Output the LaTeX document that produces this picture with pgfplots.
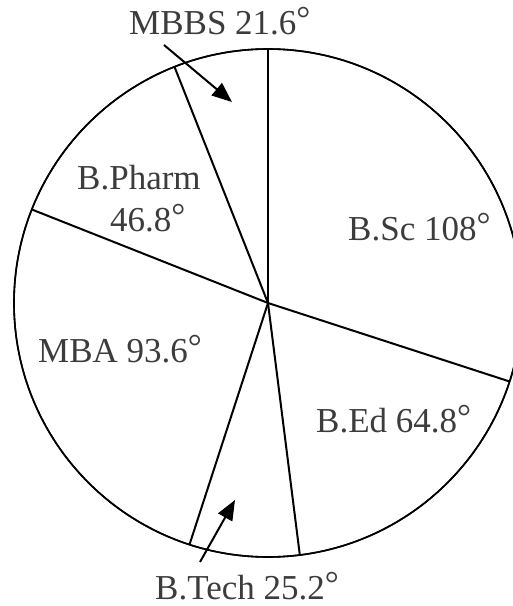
\documentclass[border=0pt]{standalone}
\usepackage{fontspec}
\setmainfont{Liberation Serif}
\usepackage{pgfplots}
\pgfplotsset{compat=1.18}
\usepgfplotslibrary{polar}
\usetikzlibrary{arrows.meta}
\definecolor{labelgray}{HTML}{3C3C3C}
\newcommand\dg{\raisebox{4pt}{°}}

% sector boundaries, clockwise from the top (90 deg):
% B.Sc 108, B.Ed 64.8, B.Tech 25.2, MBA 93.6, B.Pharm 46.8, MBBS 21.6
\begin{document}
\begin{tikzpicture}
\useasboundingbox (0pt,0pt) rectangle (513pt,606pt);
\clip (0pt,0pt) rectangle (513pt,606pt);
\begin{polaraxis}[
    at={(268pt,303pt)}, anchor=origin,
    scale only axis, width=508pt, height=508pt,
    ymin=0, ymax=1,
    xtick=\empty, ytick=\empty,
    separate axis lines,
    every outer x axis line/.append style={line width=1.6pt, black},
    x axis line style={line width=1.6pt, black},
    y axis line style={draw=none},
    axis background/.style={draw=black, line width=1.6pt},
    clip=false,
]
\addplot[black, line width=2pt] coordinates {(90,0) (90,1)};
\addplot[black, line width=2pt] coordinates {(-18,0) (-18,1)};
\addplot[black, line width=2pt] coordinates {(-82.8,0) (-82.8,1)};
\addplot[black, line width=2pt] coordinates {(-108,0) (-108,1)};
\addplot[black, line width=2pt] coordinates {(-201.6,0) (-201.6,1)};
\addplot[black, line width=2pt] coordinates {(-248.4,0) (-248.4,1)};
\end{polaraxis}

\tikzset{lbl/.style={anchor=base west, inner sep=0pt, text=labelgray,
    font=\fontsize{35}{40}\selectfont}}
\node[lbl] at (129pt,571pt) {MBBS 21.6\dg};
\node[lbl] at (77pt,416pt) {B.Pharm};
\node[lbl] at (110pt,374pt) {46.8\dg};
\node[lbl] at (348pt,365pt) {B.Sc 108\dg};
\node[lbl] at (38pt,243pt) {MBA 93.6\dg};
\node[lbl] at (316pt,173pt) {B.Ed 64.8\dg};
\node[lbl] at (155pt,6pt) {B.Tech 25.2\dg};

\draw[line width=2pt, -{Triangle[length=20pt,width=16pt]}] (164pt,561pt) -- (232pt,504pt);
\draw[line width=2pt, -{Triangle[length=20pt,width=16pt]}] (200pt,44pt) -- (235pt,106pt);
\end{tikzpicture}
\end{document}
